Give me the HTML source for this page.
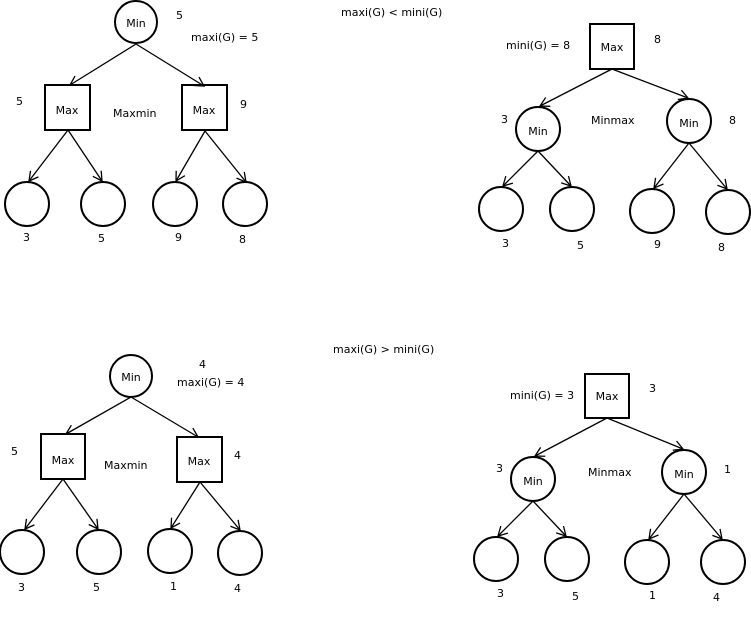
<!DOCTYPE html>
<html><head><meta charset="utf-8"><style>
html,body{margin:0;padding:0;background:#fff;}
svg{display:block;}
text{font-family:"DejaVu Sans","Liberation Sans",sans-serif;font-size:11px;fill:#000;}
</style></head><body>
<svg width="751" height="617" viewBox="0 0 751 617" xmlns="http://www.w3.org/2000/svg">
<defs>
<marker id="a" markerWidth="12" markerHeight="12" refX="10" refY="6" orient="auto" markerUnits="userSpaceOnUse">
<path d="M1,1 L10,6 L1,11" fill="none" stroke="#000" stroke-width="1.3"/>
</marker>
</defs>
<g stroke="#000" stroke-width="2" fill="#fff">
<!-- top-left -->
<circle cx="136" cy="22" r="21"/>
<rect x="45" y="85" width="45" height="45"/>
<rect x="182" y="85" width="45" height="45"/>
<circle cx="27" cy="204" r="22"/><circle cx="103" cy="204" r="22"/>
<circle cx="175" cy="204" r="22"/><circle cx="245" cy="204" r="22"/>
<!-- top-right -->
<rect x="590" y="24" width="44" height="45"/>
<circle cx="538" cy="129" r="22"/><circle cx="689" cy="121" r="22"/>
<circle cx="501" cy="209" r="22"/><circle cx="572" cy="209" r="22"/>
<circle cx="652" cy="211" r="22"/><circle cx="728" cy="212" r="22"/>
<!-- bottom-left -->
<circle cx="131" cy="376" r="21"/>
<rect x="41" y="434" width="44" height="45"/>
<rect x="177" y="437" width="45" height="45"/>
<circle cx="22" cy="552" r="22"/><circle cx="99" cy="552" r="22"/>
<circle cx="170" cy="551" r="22"/><circle cx="240" cy="553" r="22"/>
<!-- bottom-right -->
<rect x="585" y="374" width="44" height="44"/>
<circle cx="533" cy="479" r="22"/><circle cx="684" cy="472" r="22"/>
<circle cx="496" cy="559" r="22"/><circle cx="567" cy="559" r="22"/>
<circle cx="647" cy="562" r="22"/><circle cx="723" cy="562" r="22"/>
</g>
<g stroke="#000" stroke-width="1.3" fill="none" marker-end="url(#a)">
<line x1="136" y1="44" x2="70" y2="85"/><line x1="136" y1="44" x2="204" y2="86"/>
<line x1="68" y1="130" x2="29" y2="181"/><line x1="68" y1="130" x2="102" y2="181"/>
<line x1="205" y1="131" x2="176" y2="181"/><line x1="205" y1="131" x2="246" y2="182"/>

<line x1="612" y1="69" x2="540" y2="106"/><line x1="612" y1="69" x2="688" y2="98"/>
<line x1="538" y1="151" x2="503" y2="186"/><line x1="538" y1="151" x2="571" y2="186"/>
<line x1="689" y1="143" x2="654" y2="188"/><line x1="689" y1="143" x2="727" y2="189"/>

<line x1="131" y1="397" x2="66" y2="434"/><line x1="131" y1="397" x2="198" y2="437"/>
<line x1="63" y1="479" x2="25" y2="529"/><line x1="63" y1="479" x2="98" y2="529"/>
<line x1="200" y1="482" x2="171" y2="528"/><line x1="200" y1="482" x2="240" y2="530"/>

<line x1="607" y1="418" x2="535" y2="456"/><line x1="607" y1="418" x2="683" y2="449"/>
<line x1="533" y1="501" x2="498" y2="536"/><line x1="533" y1="501" x2="566" y2="536"/>
<line x1="684" y1="494" x2="649" y2="539"/><line x1="684" y1="494" x2="722" y2="539"/>
</g>
<g>
<text x="341" y="16">maxi(G) &lt; mini(G)</text>
<text x="333" y="353">maxi(G) &gt; mini(G)</text>

<text x="136" y="27" text-anchor="middle">Min</text>
<text x="176" y="19">5</text>
<text x="191" y="41">maxi(G) = 5</text>
<text x="67" y="114" text-anchor="middle">Max</text>
<text x="204" y="114" text-anchor="middle">Max</text>
<text x="16" y="105">5</text>
<text x="113" y="117">Maxmin</text>
<text x="240" y="108">9</text>
<text x="23" y="241">3</text><text x="98" y="242">5</text>
<text x="175" y="241">9</text><text x="239" y="243">8</text>

<text x="612" y="51" text-anchor="middle">Max</text>
<text x="506" y="49">mini(G) = 8</text>
<text x="654" y="43">8</text>
<text x="538" y="135" text-anchor="middle">Min</text>
<text x="689" y="127" text-anchor="middle">Min</text>
<text x="501" y="123">3</text>
<text x="591" y="124">Minmax</text>
<text x="729" y="124">8</text>
<text x="502" y="247">3</text><text x="577" y="249">5</text>
<text x="654" y="248">9</text><text x="718" y="251">8</text>

<text x="131" y="381" text-anchor="middle">Min</text>
<text x="199" y="368">4</text>
<text x="177" y="386">maxi(G) = 4</text>
<text x="63" y="464" text-anchor="middle">Max</text>
<text x="199" y="465" text-anchor="middle">Max</text>
<text x="11" y="455">5</text>
<text x="104" y="469">Maxmin</text>
<text x="234" y="459">4</text>
<text x="18" y="591">3</text><text x="93" y="591">5</text>
<text x="170" y="590">1</text><text x="234" y="592">4</text>

<text x="607" y="400" text-anchor="middle">Max</text>
<text x="510" y="399">mini(G) = 3</text>
<text x="649" y="392">3</text>
<text x="533" y="485" text-anchor="middle">Min</text>
<text x="684" y="478" text-anchor="middle">Min</text>
<text x="496" y="472">3</text>
<text x="588" y="476">Minmax</text>
<text x="724" y="473">1</text>
<text x="497" y="597">3</text><text x="572" y="600">5</text>
<text x="649" y="599">1</text><text x="713" y="601">4</text>
</g>
</svg>
</body></html>
